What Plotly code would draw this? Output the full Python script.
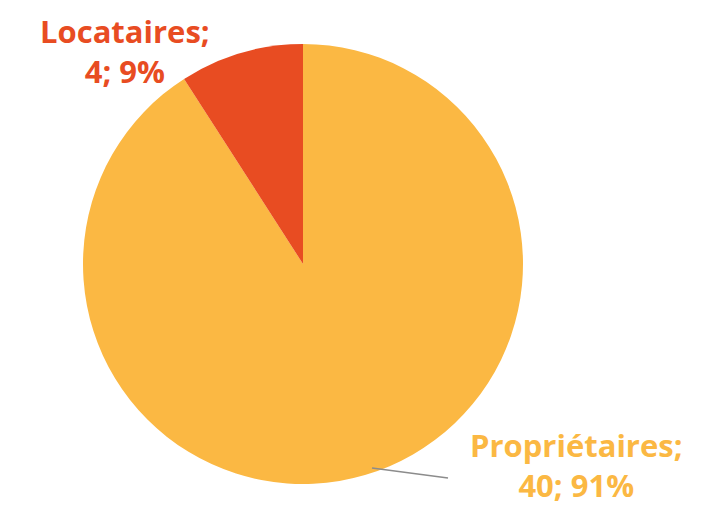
import plotly.graph_objects as go

labels = ["Locataires", "Propriétaires"]
values = [4, 40]
colors = ["#E84C22", "#FBB843"]

W, H = 706, 507
total = sum(values)
pcts = [round(v * 100 / total) for v in values]
texts = [f"<b>{l};<br>{v}; {p}%</b>" for l, v, p in zip(labels, values, pcts)]

# pie placement in pixels
cx, cy, r = 303, 264, 220

# clockwise from 12 o'clock, so reversed order puts Locataires just left of the top
fig = go.Figure(
    data=[
        go.Pie(
            labels=labels[::-1],
            values=values[::-1],
            sort=False,
            direction="clockwise",
            rotation=0,
            textinfo="none",
            hoverinfo="label+value+percent",
            marker=dict(colors=colors[::-1], line=dict(width=0)),
            domain=dict(
                x=[(cx - r) / W, (cx + r) / W],
                y=[(H - cy - r) / H, (H - cy + r) / H],
            ),
        )
    ]
)

# label centres (pixels)
label_pos = [(125, 51), (576, 465)]
annotations = []
for t, c, (px, py) in zip(texts, colors, label_pos):
    annotations.append(
        dict(
            text=t,
            x=px / W,
            y=1 - py / H,
            xref="paper",
            yref="paper",
            xanchor="center",
            yanchor="middle",
            showarrow=False,
            align="center",
            font=dict(family="Open Sans", size=31, color=c),
        )
    )

fig.update_layout(
    width=W,
    height=H,
    margin=dict(l=0, r=0, t=0, b=0),
    paper_bgcolor="white",
    plot_bgcolor="white",
    showlegend=False,
    annotations=annotations,
    shapes=[
        dict(
            type="line",
            xref="paper",
            yref="paper",
            x0=372 / W,
            y0=1 - 468 / H,
            x1=448 / W,
            y1=1 - 478 / H,
            line=dict(color="#8C8C8C", width=1.5),
        )
    ],
)

fig.write_html(
    "out.html",
    config={"displayModeBar": False},
    post_script="document.body.style.margin='0';",
)
